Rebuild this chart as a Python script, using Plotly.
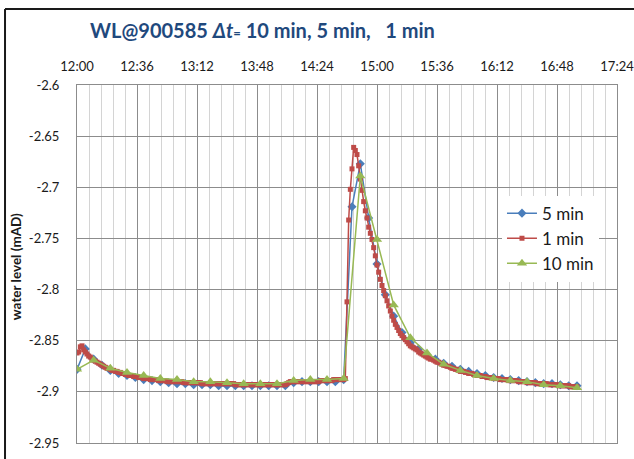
import pandas as pd
import plotly.graph_objects as go

# ---- data ----
start = "2013-01-01 12:00"
end = "2013-01-01 17:00"

wl_10min = [-2.878, -2.869, -2.877, -2.881, -2.884, -2.887, -2.888, -2.890, -2.890, -2.891,
            -2.892, -2.892, -2.892, -2.889, -2.888, -2.888, -2.887, -2.689, -2.751, -2.815,
            -2.847, -2.862, -2.873, -2.879, -2.884, -2.887, -2.889, -2.890, -2.893, -2.894,
            -2.896]

wl_5min = [-2.878, -2.858, -2.868, -2.874, -2.879, -2.882, -2.884, -2.886, -2.888, -2.889,
           -2.890, -2.891, -2.892, -2.892, -2.893, -2.893, -2.893, -2.894, -2.894, -2.894,
           -2.894, -2.894, -2.894, -2.894, -2.894, -2.894, -2.891, -2.890, -2.890, -2.890,
           -2.890, -2.890, -2.888, -2.719, -2.677, -2.730, -2.775, -2.805, -2.826, -2.842,
           -2.852, -2.858, -2.864, -2.868, -2.872, -2.875, -2.878, -2.880, -2.882, -2.884,
           -2.886, -2.887, -2.888, -2.889, -2.890, -2.891, -2.892, -2.892, -2.893, -2.894,
           -2.894]

wl_1min = [
    -2.862, -2.861, -2.856, -2.855, -2.859, -2.861, -2.863, -2.865, -2.866, -2.868,  # 12:00
    -2.869, -2.870, -2.871, -2.872, -2.873, -2.874, -2.875, -2.876, -2.877, -2.877,  # 12:10
    -2.878, -2.879, -2.879, -2.880, -2.880, -2.881, -2.881, -2.882, -2.882, -2.883,  # 12:20
    -2.883, -2.884, -2.884, -2.884, -2.885, -2.885, -2.885, -2.886, -2.886, -2.886,  # 12:30
    -2.887, -2.887, -2.887, -2.887, -2.888, -2.888, -2.888, -2.888, -2.888, -2.889,  # 12:40
    -2.889, -2.889, -2.889, -2.889, -2.890, -2.890, -2.890, -2.890, -2.890, -2.890,  # 12:50
    -2.890, -2.890, -2.890, -2.890, -2.891, -2.891, -2.891, -2.891, -2.891, -2.891,  # 13:00
    -2.891, -2.891, -2.891, -2.891, -2.891, -2.892, -2.892, -2.892, -2.892, -2.892,  # 13:10
    -2.892, -2.892, -2.892, -2.892, -2.892, -2.892, -2.892, -2.892, -2.892, -2.892,  # 13:20
    -2.892, -2.892, -2.892, -2.892, -2.892, -2.893, -2.893, -2.893, -2.893, -2.893,  # 13:30
    -2.893, -2.893, -2.893, -2.893, -2.893, -2.893, -2.893, -2.893, -2.893, -2.893,  # 13:40
    -2.893, -2.893, -2.893, -2.893, -2.893, -2.893, -2.893, -2.893, -2.893, -2.893,  # 13:50
    -2.893, -2.893, -2.893, -2.893, -2.893, -2.893, -2.892, -2.891, -2.890, -2.890,  # 14:00
    -2.890, -2.890, -2.890, -2.890, -2.890, -2.890, -2.890, -2.890, -2.890, -2.890,  # 14:10
    -2.890, -2.890, -2.890, -2.890, -2.890, -2.890, -2.889, -2.889, -2.889, -2.889,  # 14:20
    -2.889, -2.889, -2.889, -2.889, -2.888, -2.888, -2.888, -2.888, -2.888, -2.888,  # 14:30
    -2.888, -2.887, -2.812, -2.732, -2.702, -2.682, -2.661, -2.664, -2.668, -2.679,  # 14:40
    -2.692, -2.703, -2.714, -2.723, -2.730, -2.739, -2.745, -2.751, -2.759, -2.767,  # 14:50
    -2.776, -2.783, -2.790, -2.796, -2.801, -2.806, -2.811, -2.816, -2.821, -2.826,  # 15:00
    -2.830, -2.834, -2.837, -2.840, -2.843, -2.845, -2.847, -2.849, -2.851, -2.853,  # 15:10
    -2.855, -2.856, -2.857, -2.858, -2.859, -2.861, -2.862, -2.863, -2.864, -2.865,  # 15:20
    -2.866, -2.867, -2.868, -2.868, -2.869, -2.870, -2.871, -2.871, -2.872, -2.873,  # 15:30
    -2.874, -2.874, -2.875, -2.875, -2.876, -2.877, -2.877, -2.878, -2.878, -2.879,  # 15:40
    -2.880, -2.880, -2.880, -2.881, -2.881, -2.882, -2.882, -2.882, -2.883, -2.883,  # 15:50
    -2.884, -2.884, -2.884, -2.885, -2.885, -2.885, -2.886, -2.886, -2.886, -2.886,  # 16:00
    -2.887, -2.887, -2.887, -2.887, -2.888, -2.888, -2.888, -2.888, -2.888, -2.889,  # 16:10
    -2.889, -2.889, -2.889, -2.889, -2.889, -2.890, -2.890, -2.890, -2.890, -2.890,  # 16:20
    -2.891, -2.891, -2.891, -2.891, -2.891, -2.891, -2.892, -2.892, -2.892, -2.892,  # 16:30
    -2.892, -2.892, -2.892, -2.893, -2.893, -2.893, -2.893, -2.893, -2.893, -2.894,  # 16:40
    -2.894, -2.894, -2.894, -2.894, -2.894, -2.894, -2.895, -2.895, -2.895, -2.895,  # 16:50
    -2.895,                                                                          # 17:00
]

t_10 = pd.date_range(start, end, freq="10min")
t_5 = pd.date_range(start, end, freq="5min")
t_1 = pd.date_range(start, end, freq="1min")

series_names = ["5 min", "1 min", "10 min"]
y_tick_vals = [-2.6, -2.65, -2.7, -2.75, -2.8, -2.85, -2.9, -2.95]
y_tick_text = ["-2.6", "-2.65", "-2.7", "-2.75", "-2.8", "-2.85", "-2.9", "-2.95"]
title_text = "WL@900585 <i>Δt</i><span style='font-size:13px'>=</span> 10 min, 5 min,\u00a0\u00a0 1 min"
y_title = "water level (mAD)"

BLUE = "#4A7EBB"
RED = "#BE4B48"
GREEN = "#98B954"
FONT = "Lato"

fig = go.Figure()
fig.add_trace(go.Scatter(x=t_5, y=wl_5min, name=series_names[0], mode="lines+markers",
                         line=dict(color=BLUE, width=1.5),
                         marker=dict(symbol="diamond", size=7, color=BLUE)))
fig.add_trace(go.Scatter(x=t_1, y=wl_1min, name=series_names[1], mode="lines+markers",
                         line=dict(color=RED, width=1.5),
                         marker=dict(symbol="square", size=5, color=RED)))
fig.add_trace(go.Scatter(x=t_10, y=wl_10min, name=series_names[2], mode="lines+markers",
                         line=dict(color=GREEN, width=1.5),
                         marker=dict(symbol="triangle-up", size=9, color=GREEN)))

fig.update_layout(
    width=634, height=459,
    margin=dict(l=77, r=17, t=85, b=16),
    paper_bgcolor="white", plot_bgcolor="white",
    font=dict(family=FONT, size=12, color="#1a1a1a"),
    showlegend=True,
    legend=dict(x=0.787, y=0.691, xanchor="left", yanchor="top",
                bgcolor="white", borderwidth=0,
                font=dict(family=FONT, size=17, color="#1a1a1a"),
                itemwidth=30, tracegroupgap=0),
    xaxis=dict(
        type="date", side="top", automargin=False, ticklabeloverflow="allow",
        range=["2013-01-01 12:00", "2013-01-01 17:24"],
        tick0="2013-01-01 12:00", dtick=36 * 60 * 1000, tickformat="%H:%M",
        showgrid=True, gridcolor="#8c8c8c", gridwidth=1,
        minor=dict(dtick=7.2 * 60 * 1000, tick0="2013-01-01 12:00",
                   showgrid=True, gridcolor="#d4d4d4", gridwidth=1),
        showline=True, linecolor="#8c8c8c", linewidth=1, mirror=True,
        ticks="", ticklabelstandoff=8, zeroline=False,
        tickfont=dict(family=FONT, size=13, color="#1a1a1a"),
    ),
    yaxis=dict(
        range=[-2.95, -2.6], tickmode="array", tickvals=y_tick_vals, ticktext=y_tick_text,
        automargin=False,
        showgrid=True, gridcolor="#8c8c8c", gridwidth=1,
        showline=True, linecolor="#8c8c8c", linewidth=1, mirror=True,
        ticks="", ticklabelstandoff=14, zeroline=False,
        tickfont=dict(family=FONT, size=13, color="#1a1a1a"),
    ),
    annotations=[
        dict(text=title_text, xref="paper", yref="paper", x=0.0204, y=1.1536,
             xanchor="left", yanchor="middle", showarrow=False,
             font=dict(family=FONT, size=20, color="#1F497D", weight="bold")),
        dict(text="<b>" + y_title + "</b>", xref="paper", yref="paper", x=-0.113, y=0.494,
             xanchor="center", yanchor="middle", textangle=-90, showarrow=False,
             font=dict(family=FONT, size=13.5, color="#1a1a1a")),
    ],
    shapes=[
        dict(type="line", xref="paper", yref="paper", x0=-0.1333, x1=1.1, y0=1.2123, y1=1.2123,
             line=dict(color="#1a1a1a", width=2)),
        dict(type="line", xref="paper", yref="paper", x0=-0.1333, x1=-0.1333, y0=1.2123, y1=-0.1,
             line=dict(color="#1a1a1a", width=2)),
    ],
)

fig.write_html("out.html", config={"displayModeBar": False},
               post_script="document.body.style.margin='0';")
